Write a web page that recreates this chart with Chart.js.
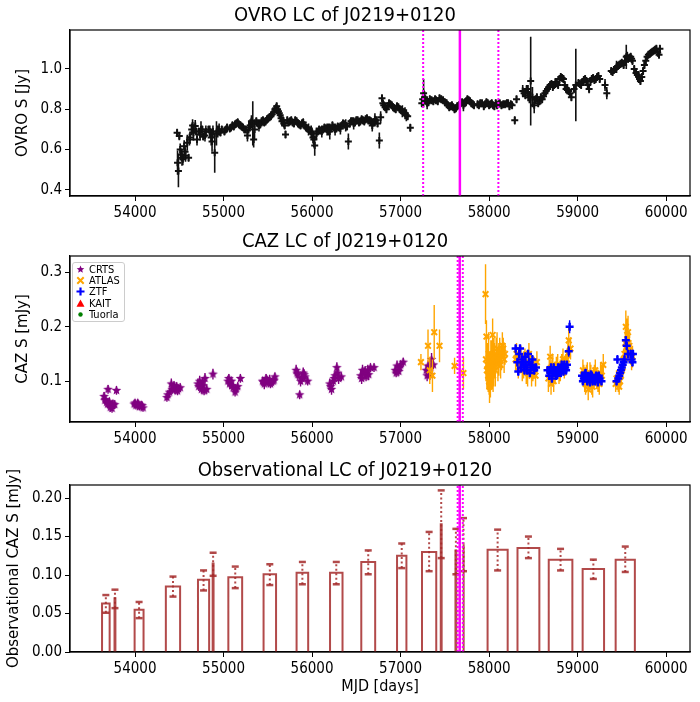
<!DOCTYPE html>
<html>
<head>
<meta charset="utf-8">
<title>Light curves of J0219+0120</title>
<script src="https://cdn.jsdelivr.net/npm/chart.js@4.4.1/dist/chart.umd.min.js"></script>
<style>
  html, body { margin: 0; padding: 0; background: #fff; }
  body { position: relative; width: 700px; height: 702px; overflow: hidden; }
  .panel { position: absolute; left: 0; width: 700px; }
  #caz-legend {
    position: absolute; left: 72px; top: 262px;
    border: 1px solid #ccc; border-radius: 3px; background: rgba(255,255,255,.8);
    padding: 1px 4px 1px 2px;
    font: 11px 'DejaVu Sans Condensed', 'Liberation Sans Narrow', 'DejaVu Sans', sans-serif;
    color: #000;
  }
  .lg-item { display: flex; align-items: center; height: 11.2px; }
  .lg-item canvas { width: 11px; height: 11px; margin-right: 3px; }
</style>
</head>
<body>
<div class="panel" style="top:0;height:226px"><canvas id="ovroChart"></canvas></div>
<div class="panel" style="top:226px;height:226px"><canvas id="cazChart"></canvas></div>
<div id="caz-legend"></div>
<div class="panel" style="top:455px;height:247px"><canvas id="obsChart"></canvas></div>

<script>
'use strict';

// ── Axes ──────────────────────────────────────────────────
const X_RANGE  = [53265, 60270];
const X_TICKS  = [54000, 55000, 56000, 57000, 58000, 59000, 60000];
const OVRO_YRANGE = [0.37, 1.193];
const OVRO_TICKS  = [0.4, 0.6, 0.8, 1.0];
const CAZ_YRANGE  = [0.025, 0.33];
const CAZ_TICKS   = [0.1, 0.2, 0.3];
const OBS_YRANGE  = [0, 0.217];
const OBS_TICKS   = [0.00, 0.05, 0.10, 0.15, 0.20];

// ── Flare markers (MJD) ───────────────────────────────────
const OVRO_PEAK = [57670];
const OVRO_PEAK_BOUNDS = [57255, 58105];
const CAZ_PEAK = [57668];
const CAZ_PEAK_BOUNDS = [57645, 57703];

// ── OVRO 15 GHz ───────────────────────────────────────────
const OVRO_MJD = [
  54475,54480,54490,54500,54520,54540,54555,54570,54590,54605,54620,54640,54660,54680,54700,54720,
  54745,54770,54800,54830,54860,54880,54900,54920,54950,54980,55010,55040,55070,55100,55130,55160,
  55190,55220,55250,55270,55300,55330,55350,55370,55400,55430,55460,55490,55520,55550,55580,55600,
  55620,55640,55660,55680,55700,55720,55750,55780,55810,55840,55870,55900,55930,55960,55990,56010,
  56030,56050,56080,56110,56140,56170,56200,56230,56260,56290,56320,56350,56380,56410,56440,56470,
  56500,56530,56560,56590,56620,56650,56680,56710,56740,56760,56775,56790,56810,56840,56870,56900,
  56930,56960,56990,57020,57050,57080,57110,57240,57260,57280,57300,57330,57370,57400,57440,57480,
  57520,57550,57580,57610,57640,57680,57710,57740,57770,57800,57830,57870,57900,57940,57970,58000,
  58030,58060,58090,58120,58160,58200,58230,58260,58290,58310,58380,58410,58440,58470,58490,58510,
  58540,58570,58600,58630,58660,58690,58720,58750,58780,58810,58840,58870,58900,58930,58960,58980,
  59010,59040,59070,59100,59130,59160,59190,59220,59250,59310,59330,59380,59410,59440,59470,59500,
  59520,59550,59570,59600,59620,59660,59690,59710,59740,59770,59800,59830,59860,59890,59920,59930,
  54510,54530,54565,54615,54650,54690,54735,54760,54790,54845,54870,54935,54965,55025,55085,55115,
  55145,55175,55205,55235,55285,55315,55340,55385,55415,55445,55475,55505,55535,55565,55590,55610,
  55630,55650,55670,55690,55735,55765,55795,55825,55855,55885,55915,55945,55975,56000,56020,56065,
  56095,56125,56155,56185,56215,56245,56275,56305,56335,56365,56395,56425,56455,56485,56515,56545,
  56575,56605,56635,56665,56695,56725,56800,56825,56855,56885,56915,56945,56975,57005,57035,57065,
  57250,57270,57290,57315,57350,57390,57420,57460,57500,57535,57565,57595,57625,57660,57695,57725,
  57755,57785,57815,57885,57920,57955,57985,58015,58045,58075,58105,58140,58180,58215,58245,58395,
  58425,58455,58525,58555,58585,58615,58645,58675,58705,58735,58765,58795,58825,58855,58885,58915,
  59025,59055,59085,59115,59145,59175,59205,59235,59395,59425,59455,59485,59535,59560,59585,59610,
  59640,59675,59700,59725,59755,59785,59815,59845,59875,59905
];
const OVRO_FLUX = [
  0.684,0.535,0.494,0.667,0.576,0.552,0.617,0.570,0.634,0.560,0.660,0.700,0.684,0.717,0.650,0.690,
  0.700,0.665,0.690,0.700,0.660,0.690,0.585,0.680,0.700,0.700,0.690,0.710,0.705,0.720,0.725,0.735,
  0.720,0.710,0.700,0.670,0.720,0.730,0.700,0.740,0.720,0.740,0.735,0.750,0.760,0.775,0.800,0.815,
  0.790,0.770,0.740,0.730,0.675,0.745,0.740,0.735,0.745,0.730,0.720,0.735,0.710,0.700,0.690,0.660,
  0.620,0.680,0.700,0.690,0.710,0.700,0.690,0.720,0.700,0.715,0.705,0.730,0.720,0.640,0.740,0.730,
  0.745,0.735,0.750,0.740,0.755,0.745,0.720,0.750,0.730,0.645,0.760,0.855,0.820,0.800,0.830,0.820,
  0.805,0.815,0.800,0.790,0.780,0.765,0.708,0.830,0.880,0.850,0.830,0.850,0.840,0.845,0.855,0.845,
  0.830,0.810,0.820,0.800,0.815,0.830,0.820,0.840,0.845,0.830,0.820,0.825,0.830,0.815,0.835,0.820,
  0.830,0.815,0.820,0.830,0.825,0.830,0.815,0.820,0.745,0.850,0.890,0.870,0.880,0.940,0.860,0.820,
  0.860,0.840,0.850,0.880,0.900,0.920,0.910,0.935,0.920,0.960,0.950,0.900,0.890,0.860,0.900,0.920,
  0.930,0.920,0.945,0.940,0.900,0.950,0.945,0.960,0.950,0.920,0.880,0.990,0.995,1.010,1.020,1.030,
  1.020,1.060,1.050,1.060,1.040,0.980,0.960,0.940,0.990,1.040,1.070,1.080,1.090,1.100,1.070,1.100,
  0.600,0.560,0.590,0.650,0.720,0.690,0.675,0.700,0.670,0.690,0.640,0.690,0.685,0.700,0.710,0.715,
  0.730,0.725,0.715,0.700,0.710,0.740,0.650,0.730,0.725,0.745,0.740,0.755,0.765,0.785,0.805,0.800,
  0.780,0.755,0.745,0.720,0.735,0.745,0.730,0.740,0.725,0.730,0.720,0.705,0.695,0.680,0.650,0.690,
  0.695,0.700,0.705,0.700,0.705,0.710,0.705,0.710,0.720,0.725,0.715,0.730,0.740,0.735,0.745,0.740,
  0.745,0.750,0.745,0.740,0.735,0.745,0.830,0.810,0.815,0.825,0.810,0.800,0.810,0.795,0.785,0.770,
  0.850,0.860,0.840,0.835,0.845,0.850,0.840,0.850,0.835,0.820,0.815,0.810,0.805,0.820,0.835,0.830,
  0.850,0.840,0.825,0.820,0.830,0.825,0.830,0.825,0.820,0.830,0.825,0.820,0.825,0.830,0.825,0.880,
  0.900,0.860,0.850,0.830,0.860,0.865,0.890,0.910,0.925,0.920,0.930,0.950,0.955,0.920,0.895,0.880,
  0.925,0.935,0.950,0.920,0.940,0.955,0.950,0.965,0.985,1.000,1.015,1.025,1.040,1.065,1.055,1.050,
  1.000,0.970,0.950,0.960,1.020,1.060,1.075,1.085,1.095,1.080
];
const OVRO_ERR = [
  0.02,0.06,0.08,0.02,0.03,0.03,0.03,0.03,0.04,0.02,0.03,0.03,0.04,0.03,0.03,0.02,
  0.04,0.02,0.03,0.02,0.04,0.03,0.10,0.06,0.03,0.02,0.02,0.02,0.02,0.02,0.02,0.02,
  0.02,0.02,0.02,0.03,0.03,0.11,0.05,0.02,0.03,0.02,0.02,0.02,0.02,0.02,0.02,0.02,
  0.02,0.02,0.02,0.02,0.02,0.02,0.02,0.02,0.02,0.02,0.02,0.02,0.02,0.03,0.03,0.03,
  0.05,0.03,0.02,0.03,0.02,0.03,0.04,0.02,0.03,0.02,0.03,0.02,0.03,0.04,0.02,0.03,
  0.02,0.02,0.02,0.02,0.02,0.02,0.03,0.03,0.02,0.04,0.03,0.02,0.02,0.02,0.02,0.02,
  0.02,0.02,0.02,0.03,0.03,0.02,0.02,0.02,0.07,0.02,0.03,0.02,0.02,0.02,0.02,0.02,
  0.02,0.02,0.02,0.02,0.02,0.02,0.03,0.02,0.02,0.02,0.02,0.02,0.02,0.02,0.02,0.02,
  0.02,0.02,0.02,0.02,0.02,0.02,0.02,0.02,0.02,0.02,0.03,0.02,0.04,0.22,0.05,0.04,
  0.02,0.02,0.02,0.02,0.02,0.02,0.02,0.02,0.02,0.02,0.02,0.02,0.02,0.02,0.02,0.18,
  0.02,0.02,0.02,0.02,0.02,0.02,0.02,0.02,0.02,0.03,0.03,0.02,0.02,0.03,0.02,0.02,
  0.02,0.06,0.02,0.02,0.02,0.02,0.03,0.02,0.02,0.02,0.02,0.02,0.02,0.02,0.02,0.02,
  0.03,0.04,0.03,0.03,0.03,0.02,0.03,0.02,0.03,0.03,0.05,0.03,0.02,0.02,0.02,0.02,
  0.02,0.02,0.02,0.02,0.03,0.03,0.04,0.02,0.02,0.02,0.02,0.02,0.02,0.02,0.02,0.02,
  0.02,0.02,0.02,0.02,0.02,0.02,0.02,0.02,0.02,0.02,0.02,0.02,0.02,0.03,0.04,0.02,
  0.02,0.02,0.02,0.03,0.02,0.02,0.02,0.02,0.02,0.02,0.02,0.02,0.02,0.02,0.02,0.02,
  0.02,0.02,0.02,0.02,0.02,0.02,0.02,0.02,0.02,0.02,0.02,0.02,0.02,0.02,0.02,0.03,
  0.03,0.03,0.02,0.02,0.02,0.02,0.02,0.02,0.02,0.02,0.02,0.02,0.02,0.02,0.02,0.02,
  0.02,0.02,0.02,0.02,0.02,0.02,0.02,0.02,0.02,0.02,0.02,0.02,0.02,0.02,0.02,0.02,
  0.02,0.03,0.02,0.02,0.02,0.02,0.02,0.02,0.02,0.02,0.02,0.02,0.02,0.02,0.02,0.02,
  0.02,0.02,0.02,0.02,0.02,0.02,0.02,0.02,0.02,0.02,0.02,0.02,0.02,0.02,0.02,0.02,
  0.02,0.02,0.02,0.02,0.02,0.02,0.02,0.02,0.02,0.02
];

// ── Optical (CAZ) ─────────────────────────────────────────
const CRTS_MJD = [
  53650,53665,53680,53695,53705,53720,53735,53750,53770,53790,53990,54010,54030,54050,54070,54090,
  54360,54390,54410,54430,54450,54470,54490,54510,54710,54730,54750,54770,54790,54810,54880,55050,
  55070,55090,55110,55130,55160,55190,55440,55460,55480,55500,55520,55540,55560,55580,55820,55840,
  55860,55880,55900,55920,55950,56200,56220,56240,56260,56280,56300,56330,56550,56570,56590,56610,
  56630,56660,56700,56940,56960,56980,57000,57030,57290,57310,57330,57350,57370,
  53660,53690,53710,53740,54000,54040,54080,54370,54420,54440,54480,54720,54760,54780,55060,55100,
  55140,55450,55490,55530,55570,55830,55870,55910,56210,56250,56290,56560,56600,56640,56950,56990,
  57300,57340
];
const CRTS_FLUX = [
  0.072,0.066,0.061,0.085,0.058,0.052,0.056,0.058,0.057,0.083,0.058,0.055,0.060,0.053,0.056,0.051,
  0.070,0.080,0.095,0.088,0.084,0.090,0.086,0.088,0.095,0.100,0.085,0.092,0.105,0.085,0.113,0.100,
  0.095,0.100,0.088,0.080,0.090,0.105,0.100,0.095,0.105,0.098,0.102,0.098,0.100,0.108,0.120,0.112,
  0.075,0.105,0.115,0.108,0.100,0.095,0.085,0.100,0.110,0.125,0.105,0.108,0.110,0.120,0.115,0.108,
  0.120,0.125,0.125,0.120,0.128,0.118,0.130,0.135,0.120,0.128,0.112,0.140,0.130,
  0.065,0.058,0.062,0.050,0.060,0.057,0.055,0.075,0.085,0.092,0.082,0.090,0.098,0.082,0.105,0.092,
  0.085,0.098,0.102,0.095,0.102,0.115,0.100,0.112,0.090,0.105,0.115,0.105,0.118,0.112,0.115,0.125,
  0.110,0.125
];
const CRTS_ERR = [
  0.008,0.008,0.008,0.008,0.008,0.008,0.008,0.008,0.008,0.008,0.007,0.007,0.007,0.007,0.007,0.007,
  0.008,0.008,0.010,0.008,0.008,0.008,0.008,0.008,0.010,0.010,0.008,0.010,0.010,0.008,0.010,0.010,
  0.010,0.008,0.008,0.008,0.008,0.008,0.008,0.010,0.008,0.008,0.010,0.008,0.008,0.008,0.010,0.010,
  0.008,0.010,0.010,0.010,0.008,0.010,0.010,0.010,0.010,0.010,0.010,0.008,0.010,0.010,0.010,0.008,
  0.010,0.008,0.008,0.008,0.010,0.008,0.008,0.008,0.010,0.010,0.010,0.012,0.008,
  0.008,0.008,0.008,0.008,0.007,0.007,0.007,0.008,0.008,0.008,0.008,0.008,0.008,0.008,0.008,0.008,
  0.008,0.008,0.008,0.008,0.008,0.010,0.010,0.010,0.010,0.010,0.010,0.010,0.010,0.010,0.008,0.008,
  0.010,0.010
];

const ATLAS_MJD = [
  57230,57310,57330,57360,57380,57440,57610,57710,57960,57970,57980,57990,58000,58010,58020,58030,
  58040,58050,58060,58080,58100,58120,58140,58160,58180,58300,58330,58360,58390,58420,58450,58480,
  58510,58540,58670,58690,58710,58730,58760,58790,58820,58850,58880,58900,58920,59060,59080,59100,
  59120,59140,59160,59180,59200,59230,59260,59290,59430,59450,59470,59490,59510,59530,59545,59560,
  59575,59590,59610,
  57965,57975,57995,58005,58015,58025,58035,58045,58055,58070,58090,58110,58130,58150,58170,58310,
  58345,58375,58405,58435,58465,58495,58525,58680,58700,58720,58745,58775,58805,58835,58865,58890,
  59070,59090,59110,59130,59150,59170,59190,59215,59245,59275,59440,59460,59480,59500,59520,59540,
  59555,59570,59585,59600,59620
];
const ATLAS_FLUX = [
  0.135,0.165,0.120,0.110,0.190,0.165,0.128,0.115,0.260,0.182,0.130,0.110,0.100,0.120,0.135,0.115,
  0.185,0.125,0.140,0.150,0.130,0.155,0.145,0.160,0.150,0.140,0.125,0.145,0.130,0.120,0.150,0.110,
  0.125,0.135,0.105,0.145,0.120,0.100,0.125,0.115,0.130,0.125,0.140,0.175,0.160,0.120,0.100,0.110,
  0.085,0.115,0.095,0.105,0.120,0.100,0.115,0.130,0.095,0.100,0.090,0.110,0.125,0.150,0.200,0.185,
  0.170,0.155,0.140,
  0.140,0.120,0.150,0.090,0.105,0.125,0.140,0.110,0.145,0.120,0.160,0.140,0.130,0.165,0.140,0.150,
  0.135,0.120,0.140,0.115,0.130,0.120,0.110,0.120,0.095,0.130,0.115,0.130,0.120,0.140,0.130,0.150,
  0.110,0.095,0.115,0.100,0.110,0.090,0.110,0.105,0.095,0.110,0.105,0.095,0.100,0.120,0.140,0.170,
  0.160,0.190,0.165,0.150,0.145
];
const ATLAS_ERR = [
  0.015,0.030,0.025,0.030,0.050,0.030,0.015,0.030,0.055,0.030,0.040,0.030,0.025,0.035,0.040,0.030,
  0.030,0.035,0.030,0.030,0.030,0.025,0.025,0.020,0.020,0.020,0.020,0.020,0.025,0.025,0.020,0.020,
  0.020,0.020,0.025,0.020,0.020,0.020,0.020,0.020,0.020,0.020,0.020,0.025,0.020,0.020,0.020,0.020,
  0.020,0.020,0.020,0.020,0.020,0.020,0.020,0.020,0.015,0.015,0.015,0.015,0.020,0.025,0.030,0.030,
  0.020,0.020,0.020,
  0.040,0.035,0.040,0.030,0.035,0.040,0.035,0.030,0.035,0.030,0.030,0.030,0.025,0.025,0.025,0.020,
  0.020,0.020,0.020,0.025,0.020,0.020,0.020,0.020,0.020,0.020,0.020,0.020,0.020,0.020,0.020,0.020,
  0.020,0.020,0.020,0.020,0.020,0.020,0.020,0.020,0.020,0.020,0.015,0.015,0.015,0.015,0.020,0.025,
  0.025,0.030,0.020,0.020,0.020
];

const ZTF_MJD = [
  58300,58320,58330,58350,58370,58390,58410,58430,58450,58470,58490,58510,58530,58660,58680,58700,
  58720,58740,58760,58780,58800,58820,58840,58860,58880,58900,58910,59050,59070,59090,59110,59130,
  59150,59170,59190,59210,59230,59250,59270,59440,59450,59470,59490,59510,59530,59545,59555,59570,
  59600,59620,
  58340,58360,58380,58400,58420,58440,58460,58480,58690,58710,58730,58750,58770,58790,58810,58830,
  58850,58870,59060,59080,59100,59120,59140,59160,59180,59200,59220,59240,59460,59480,59500,59520,
  59610,59625
];
const ZTF_FLUX = [
  0.160,0.135,0.118,0.160,0.140,0.130,0.145,0.120,0.135,0.125,0.140,0.120,0.125,0.120,0.110,0.125,
  0.115,0.120,0.110,0.125,0.120,0.130,0.118,0.125,0.130,0.155,0.200,0.110,0.105,0.115,0.100,0.108,
  0.112,0.100,0.105,0.110,0.098,0.105,0.100,0.100,0.140,0.110,0.120,0.130,0.140,0.175,0.165,0.150,
  0.150,0.135,
  0.150,0.125,0.135,0.120,0.130,0.150,0.115,0.130,0.120,0.105,0.125,0.118,0.112,0.122,0.115,0.125,
  0.130,0.120,0.100,0.112,0.108,0.105,0.098,0.110,0.104,0.100,0.108,0.110,0.105,0.115,0.125,0.135,
  0.140,0.150
];
const ZTF_ERR = [
  0.008,0.008,0.008,0.008,0.008,0.008,0.008,0.008,0.008,0.008,0.008,0.008,0.008,0.008,0.008,0.008,
  0.008,0.008,0.008,0.008,0.008,0.008,0.008,0.008,0.008,0.010,0.012,0.008,0.008,0.008,0.008,0.008,
  0.008,0.008,0.008,0.008,0.008,0.008,0.008,0.008,0.008,0.008,0.008,0.008,0.008,0.008,0.008,0.008,
  0.008,0.008,
  0.008,0.008,0.008,0.008,0.008,0.008,0.008,0.008,0.008,0.008,0.008,0.008,0.008,0.008,0.008,0.008,
  0.008,0.008,0.008,0.008,0.008,0.008,0.008,0.008,0.008,0.008,0.008,0.008,0.008,0.008,0.008,0.008,
  0.008,0.008
];

// ── Observational bins ────────────────────────────────────
const BIN_START = [53627,53768,53995,54348,54711,54877,55054,55452,55825,56203,56556,56960,57242,57454,57620,57706,57983,58321,58674,59057,59430];
const BIN_END   = [53713,53778,54096,54509,54837,54887,55210,55593,55956,56344,56713,57066,57403,57464,57630,57716,58210,58568,58941,59299,59647];
const BIN_FLUX  = [0.063,0.070,0.055,0.085,0.094,0.115,0.097,0.101,0.103,0.103,0.117,0.125,0.130,0.166,0.132,0.140,0.133,0.135,0.120,0.108,0.120];
const BIN_LO    = [0.051,0.057,0.044,0.072,0.080,0.099,0.083,0.087,0.088,0.088,0.101,0.109,0.105,0.122,0.101,0.105,0.106,0.122,0.106,0.095,0.104];
const BIN_HI    = [0.074,0.081,0.065,0.098,0.106,0.129,0.111,0.114,0.117,0.117,0.132,0.141,0.156,0.210,0.160,0.174,0.159,0.150,0.134,0.120,0.137];

// ── Style ─────────────────────────────────────────────────
const C = {
  ink:     '#000',
  ovro:    '#111',
  crts:    '#800080',
  atlas:   '#ffa500',
  ztf:     '#0000ff',
  kait:    '#ff0000',
  tuorla:  '#008000',
  bar:     'rgba(165,42,42,.85)',
  peak:    '#ff00ff',
};
const NARROW = "'DejaVu Sans Condensed', 'Liberation Sans Narrow', 'DejaVu Sans', sans-serif";
const WIDE   = "'DejaVu Sans', sans-serif";
const TITLE_FONT = { family: NARROW, size: 20, weight: 'normal' };
const TICK_FONT  = { family: NARROW, size: 15 };
const XLAB_FONT  = { family: NARROW, size: 16 };
const YLAB_FONT  = { family: WIDE,   size: 15 };

// ── Markers ───────────────────────────────────────────────
function markerCanvas(shape, color, r) {
  const s = Math.ceil(r * 2 + 3);
  const c = document.createElement('canvas');
  c.width = c.height = s;
  const g = c.getContext('2d');
  const m = s / 2;
  g.fillStyle = color; g.strokeStyle = color; g.lineWidth = 2;
  g.beginPath();
  if (shape === 'star') {
    for (let k = 0; k < 10; k++) {
      const rr = k % 2 ? r * 0.45 : r;
      const a = -Math.PI / 2 + k * Math.PI / 5;
      g.lineTo(m + rr * Math.cos(a), m + rr * Math.sin(a));
    }
    g.closePath(); g.fill();
  } else if (shape === 'x') {
    g.moveTo(m - r * .8, m - r * .8); g.lineTo(m + r * .8, m + r * .8);
    g.moveTo(m + r * .8, m - r * .8); g.lineTo(m - r * .8, m + r * .8);
    g.stroke();
  } else if (shape === 'plus') {
    g.lineWidth = 2.2;
    g.moveTo(m - r, m); g.lineTo(m + r, m);
    g.moveTo(m, m - r); g.lineTo(m, m + r);
    g.stroke();
  } else if (shape === 'triangle') {
    g.moveTo(m, m - r); g.lineTo(m + r, m + r * .8); g.lineTo(m - r, m + r * .8);
    g.closePath(); g.fill();
  } else {
    g.arc(m, m, r * .55, 0, Math.PI * 2); g.fill();
  }
  return c;
}

const SERIES = [
  { label: 'CRTS',   shape: 'star',     color: C.crts   },
  { label: 'ATLAS',  shape: 'x',        color: C.atlas  },
  { label: 'ZTF',    shape: 'plus',     color: C.ztf    },
  { label: 'KAIT',   shape: 'triangle', color: C.kait   },
  { label: 'Tuorla', shape: 'circle',   color: C.tuorla },
];

// ── Helpers ───────────────────────────────────────────────
const points = (mjd, flux) => mjd.map((x, i) => ({ x, y: flux[i] }));

function errSegments(mjd, lo, hi) {
  const out = [];
  mjd.forEach((x, i) => out.push({ x, y: lo[i] }, { x, y: hi[i] }, { x, y: null }));
  return out;
}
function symErr(mjd, flux, err) {
  return errSegments(mjd, flux.map((v, i) => v - err[i]), flux.map((v, i) => v + err[i]));
}

function vline(x, range, dashed) {
  return {
    data: [{ x, y: range[0] }, { x, y: range[1] }],
    showLine: true, pointRadius: 0,
    borderColor: C.peak, borderWidth: dashed ? 2 : 2.5,
    borderDash: dashed ? [2, 2] : [],
  };
}
function peakLines(peak, bounds, range) {
  return [
    vline(peak[0], range, false),
    vline(bounds[0], range, true),
    vline(bounds[1], range, true),
  ];
}

function errDataset(data, color, width) {
  return { data, showLine: true, spanGaps: false, pointRadius: 0, borderColor: color, borderWidth: width || 1.4 };
}

// frame on all four sides like matplotlib spines
const framePlugin = {
  id: 'frame',
  afterDraw(chart) {
    const { ctx, chartArea: a } = chart;
    ctx.save();
    ctx.strokeStyle = C.ink; ctx.lineWidth = 1.2;
    ctx.strokeRect(a.left, a.top, a.width, a.height);
    ctx.restore();
  }
};

function buildOptions(title, yTitle, yRange, yTicks, yDigits, yTitlePad, xTitle) {
  return {
    responsive: true, maintainAspectRatio: false, animation: false,
    layout: { padding: { left: 0, right: 10, top: 0, bottom: 0 } },
    plugins: {
      legend: { display: false }, tooltip: { enabled: false },
      title: { display: true, text: title, font: TITLE_FONT, color: C.ink, padding: { top: 4, bottom: 2 } },
    },
    elements: { line: { tension: 0, fill: false } },
    scales: {
      x: {
        type: 'linear', min: X_RANGE[0], max: X_RANGE[1],
        afterBuildTicks: s => { s.ticks = X_TICKS.map(v => ({ value: v })); },
        afterFit: s => { s.height = xTitle ? 50 : 30; },
        grid: { drawOnChartArea: false, tickLength: 5, tickColor: C.ink },
        border: { display: true, color: C.ink, width: 1.2 },
        ticks: { font: TICK_FONT, color: C.ink, padding: 3, autoSkip: false, maxRotation: 0, callback: v => String(v) },
        title: xTitle
          ? { display: true, text: xTitle, font: XLAB_FONT, color: C.ink, padding: { top: 0, bottom: 6 } }
          : { display: false },
      },
      y: {
        type: 'linear', min: yRange[0], max: yRange[1],
        afterBuildTicks: s => { s.ticks = yTicks.map(v => ({ value: v })); },
        afterFit: s => { s.width = 70; },
        grid: { drawOnChartArea: false, tickLength: 5, tickColor: C.ink },
        border: { display: true, color: C.ink, width: 1.2 },
        ticks: { font: TICK_FONT, color: C.ink, padding: 3, autoSkip: false, callback: v => v.toFixed(yDigits) },
        title: { display: true, text: yTitle, font: YLAB_FONT, color: C.ink, padding: { top: yTitlePad, bottom: 0 } },
      },
    },
  };
}

// ── OVRO panel ────────────────────────────────────────────
function buildOvroChart() {
  new Chart(document.getElementById('ovroChart'), {
    type: 'scatter',
    data: {
      datasets: [
        ...peakLines(OVRO_PEAK, OVRO_PEAK_BOUNDS, OVRO_YRANGE),
        { data: points(OVRO_MJD, OVRO_FLUX), pointStyle: 'cross', pointRadius: 3.5,
          borderColor: C.ovro, backgroundColor: C.ovro, pointBorderWidth: 2 },
        errDataset(symErr(OVRO_MJD, OVRO_FLUX, OVRO_ERR), C.ovro, 1.6),
      ]
    },
    options: buildOptions('OVRO LC of J0219+0120', 'OVRO S [Jy]', OVRO_YRANGE, OVRO_TICKS, 1, 14),
    plugins: [framePlugin],
  });
}

// ── CAZ panel ─────────────────────────────────────────────
function buildCazChart() {
  const star = markerCanvas('star', C.crts, 5);
  new Chart(document.getElementById('cazChart'), {
    type: 'scatter',
    data: {
      datasets: [
        ...peakLines(CAZ_PEAK, CAZ_PEAK_BOUNDS, CAZ_YRANGE),
        { data: points(ZTF_MJD, ZTF_FLUX), pointStyle: 'cross', pointRadius: 4,
          borderColor: C.ztf, backgroundColor: C.ztf, pointBorderWidth: 2.5 },
        errDataset(symErr(ZTF_MJD, ZTF_FLUX, ZTF_ERR), C.ztf),
        { data: points(ATLAS_MJD, ATLAS_FLUX), pointStyle: 'crossRot', pointRadius: 4,
          borderColor: C.atlas, backgroundColor: C.atlas, pointBorderWidth: 2 },
        errDataset(symErr(ATLAS_MJD, ATLAS_FLUX, ATLAS_ERR), C.atlas),
        { data: points(CRTS_MJD, CRTS_FLUX), pointStyle: star,
          borderColor: C.crts, backgroundColor: C.crts },
        errDataset(symErr(CRTS_MJD, CRTS_FLUX, CRTS_ERR), C.crts),
      ]
    },
    options: buildOptions('CAZ LC of J0219+0120', 'CAZ S [mJy]', CAZ_YRANGE, CAZ_TICKS, 1, 14),
    plugins: [framePlugin],
  });

  // legend box, matplotlib style
  const legendEl = document.getElementById('caz-legend');
  SERIES.forEach(s => {
    const row = document.createElement('div');
    row.className = 'lg-item';
    row.appendChild(markerCanvas(s.shape, s.color, 4));
    row.appendChild(document.createTextNode(s.label));
    legendEl.appendChild(row);
  });
}

// ── Observational panel ───────────────────────────────────
function buildObsChart() {
  const outline = [];
  BIN_START.forEach((x0, i) => {
    outline.push({ x: x0, y: 0 }, { x: x0, y: BIN_FLUX[i] }, { x: BIN_END[i], y: BIN_FLUX[i] },
                 { x: BIN_END[i], y: 0 }, { x: x0, y: null });
  });
  const mids = BIN_START.map((x0, i) => (x0 + BIN_END[i]) / 2);

  new Chart(document.getElementById('obsChart'), {
    type: 'scatter',
    data: {
      datasets: [
        ...peakLines(CAZ_PEAK, CAZ_PEAK_BOUNDS, OBS_YRANGE),
        { data: errSegments(mids, BIN_LO, BIN_HI), showLine: true, spanGaps: false,
          borderColor: C.bar, borderWidth: 2, borderDash: [2, 2.5],
          pointStyle: 'line', pointRadius: 3.5, pointBorderWidth: 2.5, pointBorderColor: C.bar },
        { data: outline, showLine: true, spanGaps: false, pointRadius: 0,
          borderColor: C.bar, borderWidth: 2, borderJoinStyle: 'miter' },
      ]
    },
    options: buildOptions('Observational LC of J0219+0120', 'Observational CAZ S [mJy]',
                          OBS_YRANGE, OBS_TICKS, 2, 5, 'MJD [days]'),
    plugins: [framePlugin],
  });
}

// ── Init ──────────────────────────────────────────────────
(function init() {
  buildOvroChart();
  buildCazChart();
  buildObsChart();
})();
</script>
</body>
</html>
